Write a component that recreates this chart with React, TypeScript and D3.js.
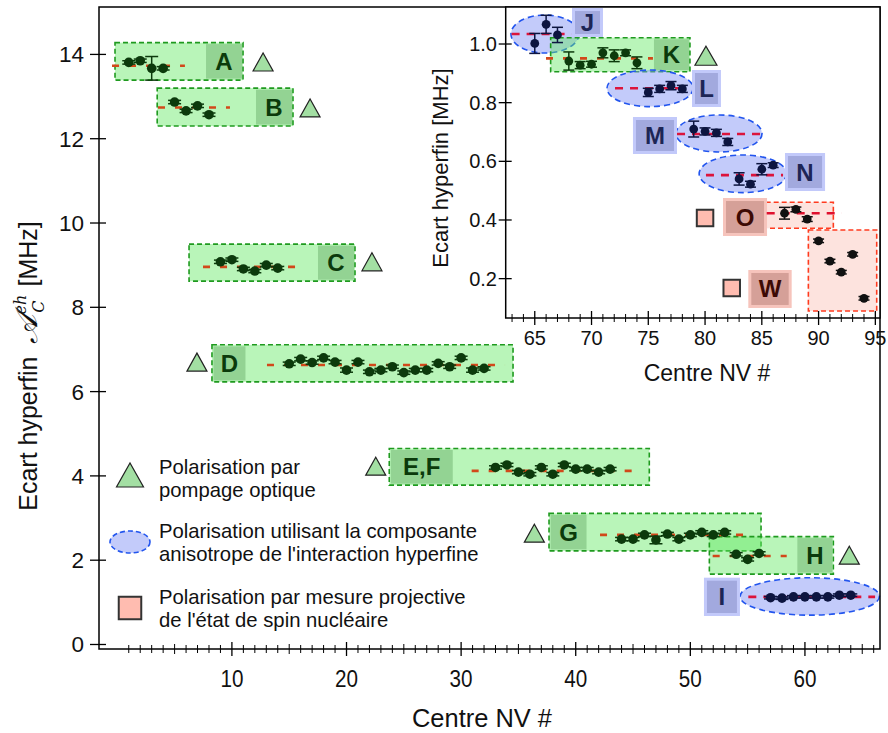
import React from 'react';
import * as d3 from 'd3';

const FONT = "'Liberation Sans', Arial, Helvetica, sans-serif";

// ---------------- Main plot data (NV centre index, hyperfine splitting MHz) ----------------
const A_nv = [1, 2, 3, 4];
const A_val = [13.81, 13.85, 13.67, 13.67];
const A_err = [0.04, 0.04, 0.28, 0.04];
const B_nv = [5, 6, 7, 8];
const B_val = [12.87, 12.66, 12.78, 12.57];
const B_err = [0.04, 0.04, 0.04, 0.04];
const C_nv = [9, 10, 11, 12, 13, 14];
const C_val = [9.08, 9.13, 8.91, 8.86, 9.0, 8.93];
const C_err = [0.04, 0.04, 0.04, 0.04, 0.04, 0.04];
const D_nv = [15, 16, 17, 18, 19, 20, 21, 22, 23, 24, 25, 26, 27, 28, 29, 30, 31, 32];
const D_val = [6.66, 6.77, 6.69, 6.8, 6.7, 6.51, 6.7, 6.47, 6.51, 6.59, 6.45, 6.51, 6.51, 6.67, 6.59, 6.8, 6.51, 6.55];
const D_err = [0.04, 0.04, 0.04, 0.04, 0.04, 0.05, 0.04, 0.04, 0.04, 0.04, 0.04, 0.04, 0.04, 0.04, 0.04, 0.04, 0.05, 0.04];
const EF_nv = [33, 34, 35, 36, 37, 38, 39, 40, 41, 42, 43];
const EF_val = [4.2, 4.26, 4.09, 4.04, 4.2, 4.04, 4.26, 4.16, 4.16, 4.09, 4.16];
const EF_err = [0.04, 0.04, 0.04, 0.04, 0.04, 0.04, 0.04, 0.04, 0.04, 0.04, 0.04];
const G_nv = [44, 45, 46, 47, 48, 49, 50, 51, 52, 53];
const G_val = [2.5, 2.5, 2.6, 2.48, 2.62, 2.5, 2.6, 2.66, 2.6, 2.66];
const G_err = [0.04, 0.04, 0.04, 0.09, 0.04, 0.04, 0.04, 0.04, 0.04, 0.04];
const H_nv = [54, 55, 56];
const H_val = [2.14, 2.02, 2.16];
const H_err = [0.04, 0.04, 0.04];
const I_nv = [57, 58, 59, 60, 61, 62, 63, 64];
const I_val = [1.11, 1.1, 1.13, 1.13, 1.13, 1.13, 1.17, 1.17];
const I_err = [0.03, 0.03, 0.03, 0.03, 0.03, 0.03, 0.03, 0.03];

// ---------------- Inset data ----------------
const J_nv = [65, 66, 67];
const J_val = [1.002, 1.067, 1.031];
const J_err = [0.034, 0.031, 0.026];
const K_nv = [68, 69, 70, 71, 72, 73, 74];
const K_val = [0.942, 0.928, 0.931, 0.97, 0.96, 0.97, 0.936];
const K_err = [0.031, 0.012, 0.01, 0.017, 0.02, 0.01, 0.02];
const L_nv = [75, 76, 77, 78];
const L_val = [0.835, 0.847, 0.858, 0.847];
const L_err = [0.014, 0.012, 0.014, 0.012];
const M_nv = [79, 80, 81, 82];
const M_val = [0.71, 0.702, 0.697, 0.666];
const M_err = [0.027, 0.012, 0.012, 0.012];
const N_nv = [83, 84, 85, 86];
const N_val = [0.54, 0.522, 0.573, 0.587];
const N_err = [0.021, 0.01, 0.019, 0.008];
const O_nv = [87, 88, 89];
const O_val = [0.423, 0.436, 0.403];
const O_err = [0.02, 0.008, 0.008];
const W_nv = [90, 91, 92, 93, 94];
const W_val = [0.329, 0.26, 0.222, 0.283, 0.133];
const W_err = [0.006, 0.006, 0.006, 0.006, 0.006];

const mainYTicks = [0, 2, 4, 6, 8, 10, 12, 14];
const mainXTicks = [10, 20, 30, 40, 50, 60];
const insetYTicks = [0.2, 0.4, 0.6, 0.8, 1.0];
const insetXTicks = [65, 70, 75, 80, 85, 90, 95];

const legendLines = [
  ['Polarisation par', 'pompage optique'],
  ['Polarisation utilisant la composante', "anisotrope de l'interaction hyperfine"],
  ['Polarisation par mesure projective', "de l'état de spin nucléaire"],
];

// ---------------- Scales ----------------
const xM = d3.scaleLinear().domain([-1.597, 66.55]).range([99, 880]);
const yM = d3.scaleLinear().domain([-0.107, 15.125]).range([649, 7]);
const xI = d3.scaleLinear().domain([62.44, 95.41]).range([505.7, 880]);
const yI = d3.scaleLinear().domain([0.0658, 1.1262]).range([318, 7]);

type Kind = 'green' | 'blue' | 'red';
const STY: Record<Kind, any> = {
  green: { fill: 'rgba(100,232,100,0.45)', stroke: '#1f9a1f', dot: '#0c3a0c', mean: '#d2481a', labOuter: null, labInner: '#93d393', text: '#0b3a0b' },
  blue: { fill: 'rgba(130,146,245,0.48)', stroke: '#2255ee', dot: '#0d1540', mean: '#dc143c', labOuter: '#c2c9fa', labInner: '#a2a9de', text: '#1d2555' },
  red: { fill: 'rgba(252,200,190,0.5)', stroke: '#ff3b1f', dot: '#111111', mean: '#e0102e', labOuter: '#f6c4bc', labInner: '#d5a098', text: '#3d0a04' },
};

interface Grp {
  name: string; kind: Kind; nv: number[]; val: number[]; err: number[];
  mean?: number; meanX?: [number, number];
  box?: [number, number, number, number];
  ell?: [number, number, number, number];
  labSide?: 'left' | 'right'; labW?: number;
  lab?: [number, number, number, number];
  tri?: [number, number]; sq?: [number, number];
  inset: boolean;
}

const mainGroups: Grp[] = [
  { name: 'A', kind: 'green', nv: A_nv, val: A_val, err: A_err, mean: 13.73, meanX: [-0.46, 5.9], box: [-0.2, 10.97, 14.28, 13.39], labSide: 'right', labW: 36, tri: [12.72, 13.82], inset: false },
  { name: 'B', kind: 'green', nv: B_nv, val: B_val, err: B_err, mean: 12.74, meanX: [3.55, 9.83], box: [3.48, 15.33, 13.2, 12.3], labSide: 'right', labW: 36, tri: [16.82, 12.73], inset: false },
  { name: 'C', kind: 'green', nv: C_nv, val: C_val, err: C_err, mean: 8.96, meanX: [7.48, 15.94], box: [6.26, 20.74, 9.5, 8.62], labSide: 'right', labW: 36, tri: [22.22, 9.08], inset: false },
  { name: 'D', kind: 'green', nv: D_nv, val: D_val, err: D_err, mean: 6.63, meanX: [13.06, 33.83], box: [8.26, 34.53, 7.11, 6.23], labSide: 'left', labW: 32, tri: [6.95, 6.7], inset: false },
  { name: 'E,F', kind: 'green', nv: EF_nv, val: EF_val, err: EF_err, mean: 4.12, meanX: [30.92, 45.55], box: [23.73, 46.42, 4.65, 3.78], labSide: 'left', labW: 62, tri: [22.55, 4.23], inset: false },
  { name: 'G', kind: 'green', nv: G_nv, val: G_val, err: G_err, mean: 2.6, meanX: [42.12, 55.06], box: [37.67, 56.17, 3.11, 2.22], labSide: 'left', labW: 36, tri: [36.39, 2.64], inset: false },
  { name: 'H', kind: 'green', nv: H_nv, val: H_val, err: H_err, mean: 2.1, meanX: [51.95, 58.41], box: [51.66, 62.48, 2.56, 1.67], labSide: 'right', labW: 35, tri: [63.87, 2.12], inset: false },
  { name: 'I', kind: 'blue', nv: I_nv, val: I_val, err: I_err, mean: 1.13, meanX: [55.06, 66.12], ell: [60.42, 1.14, 6.08, 0.444], lab: [51.19, 54.33, 1.585, 0.676], inset: false },
];

const insetGroups: Grp[] = [
  { name: 'J', kind: 'blue', nv: J_nv, val: J_val, err: J_err, mean: 1.034, meanX: [62.96, 68.25], ell: [65.9, 1.034, 3.0, 0.0648], lab: [68.28, 71.01, 1.1227, 1.0239], inset: true },
  { name: 'K', kind: 'green', nv: K_nv, val: K_val, err: K_err, mean: 0.951, meanX: [65.99, 75.41], box: [66.4, 78.67, 1.0215, 0.9056], labSide: 'right', labW: 35, tri: [80.08, 0.96], inset: true },
  { name: 'L', kind: 'blue', nv: L_nv, val: L_val, err: L_err, mean: 0.849, meanX: [72.07, 78.67], ell: [75.15, 0.849, 3.79, 0.0624], lab: [78.85, 81.4, 0.9114, 0.7852], inset: true },
  { name: 'M', kind: 'blue', nv: M_nv, val: M_val, err: M_err, mean: 0.693, meanX: [77.53, 85.11], ell: [81.23, 0.695, 3.79, 0.0631], lab: [73.65, 77.53, 0.7511, 0.625], inset: true },
  { name: 'N', kind: 'blue', nv: N_nv, val: N_val, err: N_err, mean: 0.553, meanX: [80.08, 86.87], ell: [83.33, 0.5575, 3.85, 0.0641], lab: [87.04, 90.57, 0.6284, 0.4988], inset: true },
  { name: 'O', kind: 'red', nv: O_nv, val: O_val, err: O_err, mean: 0.423, meanX: [85.43, 92.04], box: [85.34, 91.3, 0.4603, 0.3716], lab: [81.58, 85.46, 0.4749, 0.3454], sq: [80.0, 0.4068], inset: true },
  { name: 'W', kind: 'red', nv: W_nv, val: W_val, err: W_err, box: [89.1, 95.12, 0.3658, 0.0897], lab: [83.81, 87.63, 0.2295, 0.1], sq: [82.35, 0.1681], inset: true },
];

function Triangle({ cx, cy, w, h }: { cx: number; cy: number; w: number; h: number }) {
  const p = `${cx - w / 2},${cy + h / 2} ${cx + w / 2},${cy + h / 2} ${cx},${cy - h / 2}`;
  return <polygon points={p} fill="#a3dfa3" stroke="#222" strokeWidth={1.2} />;
}

function Square({ cx, cy, s }: { cx: number; cy: number; s: number }) {
  return <rect x={cx - s / 2} y={cy - s / 2} width={s} height={s} fill="#ffbcb0" stroke="#333" strokeWidth={2} />;
}

function GroupShapes({ g }: { g: Grp }) {
  const x = g.inset ? xI : xM;
  const y = g.inset ? yI : yM;
  const s = STY[g.kind];
  const els: any[] = [];
  if (g.box) {
    const [x0, x1, yt, yb] = g.box;
    els.push(<rect key="box" x={x(x0)} y={y(yt)} width={x(x1) - x(x0)} height={y(yb) - y(yt)} fill={s.fill} stroke={s.stroke} strokeWidth={1.6} strokeDasharray="5 3" />);
    if (g.labSide) {
      const bx0 = x(x0), bx1 = x(x1), by0 = y(yt), by1 = y(yb);
      const lw = g.labW || 36;
      const lx = g.labSide === 'right' ? bx1 - lw - 1 : bx0 + 1.5;
      els.push(<rect key="lab" x={lx} y={by0 + 1.5} width={lw} height={by1 - by0 - 3} fill={s.labInner} />);
      els.push(<text key="labt" x={lx + lw / 2} y={(by0 + by1) / 2 + 8.5} textAnchor="middle" fontFamily={FONT} fontWeight="bold" fontSize={24} fill={s.text}>{g.name}</text>);
    }
  }
  if (g.ell) {
    const [cx, cy, rx, ry] = g.ell;
    els.push(<ellipse key="ell" cx={x(cx)} cy={y(cy)} rx={x(cx + rx) - x(cx)} ry={y(cy - ry) - y(cy)} fill={s.fill} stroke={s.stroke} strokeWidth={1.6} strokeDasharray="6 4" />);
  }
  if (g.lab) {
    const [x0, x1, yt, yb] = g.lab;
    const lx = x(x0), lw = x(x1) - x(x0), ly = y(yt), lh = y(yb) - y(yt);
    els.push(<rect key="lo" x={lx} y={ly} width={lw} height={lh} fill={s.labOuter} />);
    els.push(<rect key="li" x={lx + 3} y={ly + 3} width={lw - 6} height={lh - 6} fill={s.labInner} />);
    els.push(<text key="lt" x={lx + lw / 2} y={ly + lh / 2 + 8.5} textAnchor="middle" fontFamily={FONT} fontWeight="bold" fontSize={24} fill={s.text}>{g.name}</text>);
  }
  if (g.tri) els.push(<Triangle key="tri" cx={x(g.tri[0])} cy={y(g.tri[1])} w={g.inset ? 22 : 20} h={g.inset ? 19 : 18} />);
  if (g.sq) els.push(<Square key="sq" cx={x(g.sq[0])} cy={y(g.sq[1])} s={16.5} />);
  return <g>{els}</g>;
}

function GroupData({ g }: { g: Grp }) {
  const x = g.inset ? xI : xM;
  const y = g.inset ? yI : yM;
  const s = STY[g.kind];
  const cap = g.inset ? 5.5 : 6.5;
  const r = g.inset ? 4.4 : 4.8;
  const line = d3.line<number>().x((d) => x(d)).y(() => y(g.mean as number));
  return (
    <g>
      {g.mean !== undefined && g.meanX && (
        <path d={line(g.meanX) || ''} stroke={s.mean} strokeWidth={2.6} strokeDasharray={g.kind === 'green' ? '7 10' : '8 7'} fill="none" />
      )}
      {g.nv.map((n, i) => {
        const cx = x(n);
        const y0 = y(g.val[i] - g.err[i]);
        const y1 = y(g.val[i] + g.err[i]);
        return (
          <g key={i}>
            <line x1={cx} x2={cx} y1={y0} y2={y1} stroke={s.dot} strokeWidth={1.5} />
            <line x1={cx - cap} x2={cx + cap} y1={y0} y2={y0} stroke={s.dot} strokeWidth={1.5} />
            <line x1={cx - cap} x2={cx + cap} y1={y1} y2={y1} stroke={s.dot} strokeWidth={1.5} />
            <circle cx={cx} cy={y(g.val[i])} r={r} fill={s.dot} />
          </g>
        );
      })}
    </g>
  );
}

export default function App() {
  const mainMinor = d3.range(1, 67);
  const insetMinor = d3.range(63, 96);
  const [mx0, mx1] = xM.range();
  const [my0, my1] = yM.range();
  const [ix0, ix1] = xI.range();
  const [iy0, iy1] = yI.range();
  const serif = "'DejaVu Serif', serif";
  return (
    <svg width={888} height={733} style={{ display: 'block', position: 'absolute', left: 0, top: 0, background: '#fff' }} fontFamily={FONT}>
      <rect x={0} y={0} width={888} height={733} fill="#fff" />
      {mainGroups.map((g) => <GroupShapes key={'s' + g.name} g={g} />)}
      {mainGroups.map((g) => <GroupData key={'d' + g.name} g={g} />)}

      {/* main frame and axes */}
      <rect x={mx0} y={my1} width={mx1 - mx0} height={my0 - my1} fill="none" stroke="#000" strokeWidth={1.5} />
      {mainYTicks.map((t) => (
        <g key={'my' + t}>
          <line x1={mx0 - 9} x2={mx0 + 7} y1={yM(t)} y2={yM(t)} stroke="#000" strokeWidth={1.3} />
          <text x={84} y={yM(t) + 8} textAnchor="end" fontSize={22.5} fill="#111">{t}</text>
        </g>
      ))}
      {mainMinor.map((t) => {
        const major = t % 10 === 0;
        const len = major ? 7 : t % 5 === 0 ? 5 : 4;
        return <line key={'mx' + t} x1={xM(t)} x2={xM(t)} y1={my0 - len} y2={my0 + len} stroke="#000" strokeWidth={major ? 1.3 : 1} />;
      })}
      {mainXTicks.map((t) => (
        <text key={'mxl' + t} x={xM(t)} y={687} textAnchor="middle" fontSize={23} textLength={23} lengthAdjust="spacingAndGlyphs" fill="#111">{t}</text>
      ))}
      <text x={482} y={727} textAnchor="middle" fontSize={25} textLength={140} lengthAdjust="spacingAndGlyphs" fill="#111">Centre NV #</text>
      <text transform="translate(37,366) rotate(-90)" textAnchor="middle" fontSize={25} fill="#111">
        <tspan>Ecart hyperfin </tspan>
        <tspan dx={6} fontFamily={serif} fontStyle="italic" fontSize={31}>𝒜</tspan>
        <tspan dy={-11} fontSize={16} fontStyle="italic" fontFamily={serif}>eh</tspan>
        <tspan dx={-18} dy={18} fontSize={16} fontStyle="italic" fontFamily={serif}>C</tspan>
        <tspan dx={14} dy={-7}>[MHz]</tspan>
      </text>

      {/* legend */}
      <Triangle cx={130} cy={475} w={27} h={24} />
      <ellipse cx={130} cy={542} rx={20} ry={11} fill="rgba(130,146,245,0.48)" stroke="#2255ee" strokeWidth={1.6} strokeDasharray="5 3" />
      <Square cx={130} cy={608} s={22.5} />
      {legendLines.map((ls, i) => (
        <text key={'lg' + i} fontSize={20.3} fill="#111">
          {ls.map((l, j) => (
            <tspan key={j} x={159} y={[474, 537.5, 604][i] + j * 23.3}>{l}</tspan>
          ))}
        </text>
      ))}

      {/* inset */}
      <rect x={ix0} y={iy1} width={ix1 - ix0} height={iy0 - iy1} fill="#fff" />
      {insetGroups.map((g) => <GroupShapes key={'is' + g.name} g={g} />)}
      {insetGroups.map((g) => <GroupData key={'id' + g.name} g={g} />)}
      <rect x={ix0} y={iy1} width={ix1 - ix0} height={iy0 - iy1} fill="none" stroke="#000" strokeWidth={1.5} />
      {insetYTicks.map((t) => (
        <g key={'iy' + t}>
          <line x1={ix0 - 7} x2={ix0 + 6} y1={yI(t)} y2={yI(t)} stroke="#000" strokeWidth={1.3} />
          <text x={497} y={yI(t) + 7} textAnchor="end" fontSize={20} fill="#111">{t.toFixed(1)}</text>
        </g>
      ))}
      {insetMinor.map((t) => {
        const major = t % 5 === 0;
        const len = major ? 7 : 4;
        return <line key={'ix' + t} x1={xI(t)} x2={xI(t)} y1={iy0 - len} y2={iy0 + len} stroke="#000" strokeWidth={major ? 1.3 : 1} />;
      })}
      {insetXTicks.map((t) => (
        <text key={'ixl' + t} x={xI(t)} y={345} textAnchor="middle" fontSize={20} fill="#111">{t}</text>
      ))}
      <text x={707} y={381} textAnchor="middle" fontSize={23} fill="#111">Centre NV #</text>
      <text transform="translate(448,168) rotate(-90)" textAnchor="middle" fontSize={22} fill="#111">Ecart hyperfin [MHz]</text>
    </svg>
  );
}
